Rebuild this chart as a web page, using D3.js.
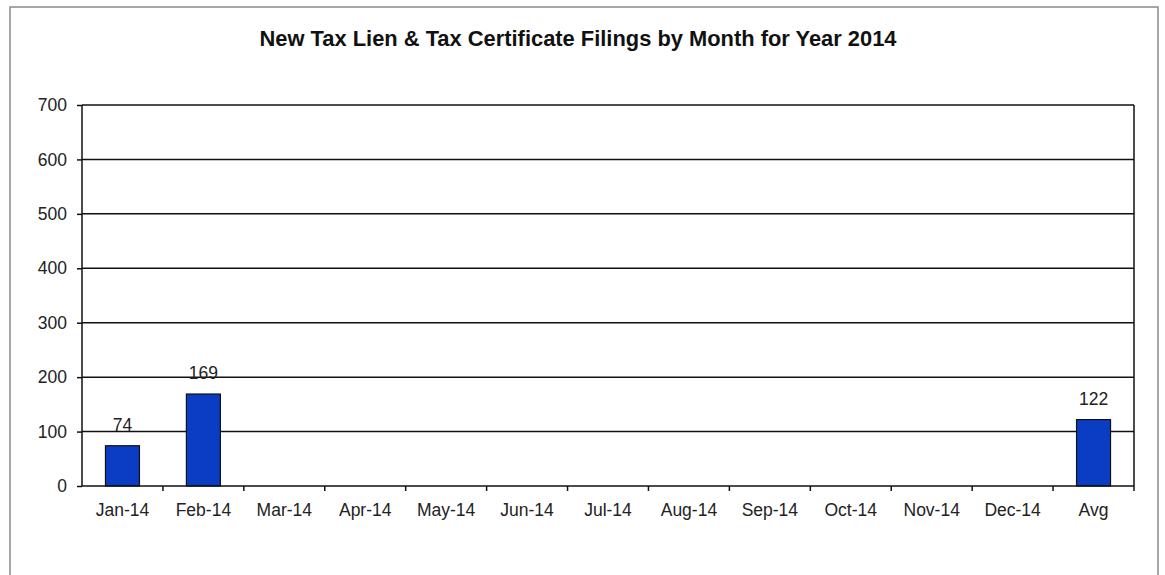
<!DOCTYPE html>
<html>
<head>
<meta charset="UTF-8">
<title>New Tax Lien & Tax Certificate Filings</title>
<style>
  body { margin: 0; background: #fff; }
  text { font-family: "Liberation Sans", Arial, sans-serif; }
</style>
</head>
<body>
<script src="https://d3js.org/d3.v7.min.js"></script>
<svg width="1165" height="575"></svg>
<script>
    let svg = d3.select("svg");

    // chart data
    let months = ["Jan-14", "Feb-14", "Mar-14", "Apr-14", "May-14", "Jun-14",
                  "Jul-14", "Aug-14", "Sep-14", "Oct-14", "Nov-14", "Dec-14", "Avg"];
    let filings = [74, 169, null, null, null, null, null, null, null, null, null, null, 122];
    let y_ticks = [0, 100, 200, 300, 400, 500, 600, 700];
    let title = "New Tax Lien & Tax Certificate Filings by Month for Year 2014";

    let plot = { left: 82, right: 1134, top: 105, bottom: 486 };
    let font = "Liberation Sans, Arial, sans-serif";

    // outer frame (bottom runs off the picture)
    svg.append("rect")
        .attr("x", 10).attr("y", 7)
        .attr("width", 1148).attr("height", 600)
        .attr("fill", "none").attr("stroke", "#8a8a8a").attr("stroke-width", 1.5);

    svg.append("text")
        .attr("x", 578).attr("y", 46)
        .attr("text-anchor", "middle")
        .attr("font-size", 21.5).attr("font-weight", "bold")
        .attr("fill", "#111")
        .attr("textLength", 637).attr("lengthAdjust", "spacingAndGlyphs")
        .text(title);

    let x = d3.scaleBand().domain(months).range([plot.left, plot.right]).paddingInner(0).paddingOuter(0);
    let y = d3.scaleLinear().domain([0, 700]).range([plot.bottom, plot.top]);

    // grid lines
    svg.append("g").selectAll("line")
        .data(y_ticks.filter(d => d > 0)).enter()
        .append("line")
        .attr("x1", plot.left).attr("x2", plot.right)
        .attr("y1", d => y(d)).attr("y2", d => y(d))
        .attr("stroke", "#111").attr("stroke-width", 1.5);

    // right border of plot area
    svg.append("line")
        .attr("x1", plot.right).attr("x2", plot.right)
        .attr("y1", plot.top).attr("y2", plot.bottom)
        .attr("stroke", "#111").attr("stroke-width", 1.5);

    // bars
    let bar_w = x.bandwidth() * 0.42;
    let shown = months.map((m, i) => ({ m: m, v: filings[i] })).filter(d => d.v != null);
    svg.append("g").selectAll("rect")
        .data(shown).enter()
        .append("rect")
        .attr("x", d => x(d.m) + (x.bandwidth() - bar_w) / 2)
        .attr("y", d => y(d.v))
        .attr("width", bar_w)
        .attr("height", d => y(0) - y(d.v))
        .attr("fill", "#0a3cc4")
        .attr("stroke", "#111").attr("stroke-width", 1.2);

    // value labels
    svg.append("g").selectAll("text")
        .data(shown).enter()
        .append("text")
        .attr("x", d => x(d.m) + x.bandwidth() / 2)
        .attr("y", d => y(d.v) - 15)
        .attr("text-anchor", "middle")
        .attr("font-size", 17.5).attr("fill", "#222")
        .text(d => d.v);

    // y axis
    let y_axis = svg.append("g")
        .attr("transform", `translate(${plot.left},0)`)
        .call(d3.axisLeft(y).tickValues(y_ticks).tickSize(5).tickPadding(10));
    y_axis.selectAll("text").attr("font-size", 17.5).attr("fill", "#222").style("font-family", font);
    y_axis.selectAll("line, path").attr("stroke", "#111").attr("stroke-width", 1.5);
    y_axis.select("path").attr("d", `M0,${plot.bottom}V${plot.top}`);

    // x axis with ticks on the band edges
    let x_axis = svg.append("g")
        .attr("transform", `translate(0,${plot.bottom})`)
        .call(d3.axisBottom(x).tickSize(0).tickPadding(18));
    x_axis.selectAll("text").attr("font-size", 17.5).attr("fill", "#222").style("font-family", font);
    x_axis.select("path").attr("d", `M${plot.left},0H${plot.right}`).attr("stroke", "#111").attr("stroke-width", 1.5);
    x_axis.selectAll(".edge")
        .data(months.map(m => x(m) + x.bandwidth()))
        .enter().append("line")
        .attr("class", "edge")
        .attr("x1", d => d).attr("x2", d => d)
        .attr("y1", 0).attr("y2", 5)
        .attr("stroke", "#111").attr("stroke-width", 1.5);
</script>
</body>
</html>
